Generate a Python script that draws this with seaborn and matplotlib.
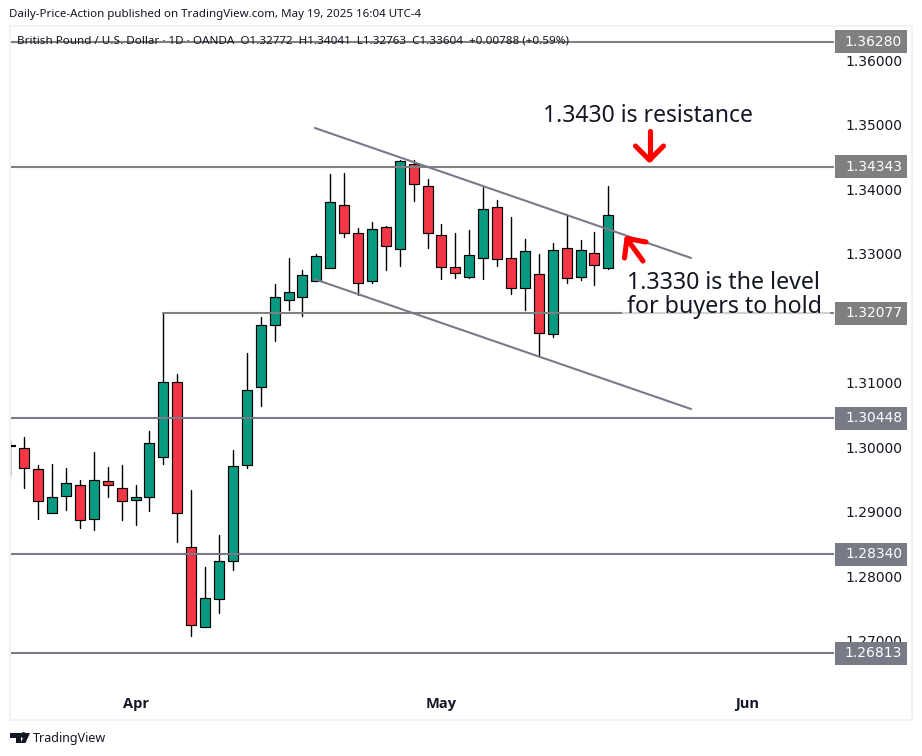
import matplotlib
matplotlib.use("Agg")
import matplotlib.pyplot as plt
from matplotlib.lines import Line2D
from matplotlib.patches import Ellipse, Polygon, Rectangle
import numpy as np
import pandas as pd
import seaborn as sns

# GBP/USD daily candles
opens = [1.30028, 1.29984, 1.29659, 1.28977, 1.29241, 1.29411, 1.28885, 1.29473, 1.29365, 1.29179, 1.29225,
         1.29845, 1.31007, 1.28451, 1.27211, 1.27645, 1.28234, 1.29721, 1.30929, 1.31890, 1.32277, 1.32324,
         1.32572, 1.32773, 1.33749, 1.33315, 1.32572, 1.33408, 1.33067, 1.34384, 1.34043, 1.33284, 1.32788,
         1.32634, 1.32928, 1.33718, 1.32928, 1.32463, 1.32680, 1.31750, 1.33083, 1.32634, 1.33005, 1.32772]
highs = [1.30113, 1.30160, 1.29726, 1.29741, 1.29679, 1.29493, 1.29927, 1.29695, 1.29726, 1.29416, 1.30252,
         1.32077, 1.31135, 1.29338, 1.28146, 1.28641, 1.29958, 1.31461, 1.32014, 1.32530, 1.32933, 1.32747,
         1.32995, 1.34234, 1.34249, 1.33393, 1.33486, 1.33424, 1.34451, 1.34446, 1.34152, 1.33455, 1.33320,
         1.33362, 1.34028, 1.33826, 1.33563, 1.33222, 1.32990, 1.33160, 1.33610, 1.33207, 1.33331, 1.34041]
lows = [1.29555, 1.29374, 1.28894, 1.28977, 1.29033, 1.28754, 1.28723, 1.29235, 1.28878, 1.28801, 1.29018,
        1.29746, 1.28537, 1.27081, 1.27211, 1.27438, 1.28104, 1.29684, 1.30644, 1.31647, 1.32132, 1.32039,
        1.32572, 1.32773, 1.33263, 1.32355, 1.32550, 1.32751, 1.32813, 1.33820, 1.33092, 1.32612, 1.32627,
        1.32618, 1.32612, 1.32813, 1.32379, 1.32132, 1.31419, 1.31704, 1.32550, 1.32596, 1.32519, 1.32763]
closes = [1.30022, 1.29675, 1.29163, 1.29225, 1.29442, 1.28869, 1.29489, 1.29411, 1.29163, 1.29225, 1.30062,
          1.31007, 1.28977, 1.27242, 1.27661, 1.28234, 1.29706, 1.30883, 1.31890, 1.32324, 1.32401, 1.32665,
          1.32959, 1.33795, 1.33315, 1.32541, 1.33377, 1.33114, 1.34431, 1.34074, 1.33315, 1.32788, 1.32696,
          1.32974, 1.33687, 1.32912, 1.32463, 1.33036, 1.31766, 1.33052, 1.32618, 1.33052, 1.32819, 1.33604]

# 1.32000 sits under the 1.32077 tag in the original, so it's left out
price_ticks = [1.27, 1.28, 1.29, 1.30, 1.31, 1.33, 1.34, 1.35, 1.36]
month_labels = ["Apr", "May", "Jun"]
month_bars = [9, 31, 53]

levels = [1.36280, 1.34343, 1.30448, 1.28340, 1.26813]
level_colors = ["#808080", "#808080", "#787b86", "#787b86", "#787b86"]
level_mid = 1.32077
level_mid_start = 11

upper_x = [21.9, 48.95]
upper_y = [1.34947, 1.32933]
lower_x = [21.9, 48.95]
lower_y = [1.32603, 1.30593]

W, H = 922, 756
GREEN = "#089981"
RED = "#f23645"
GREY = "#787b86"
MID_GREY = "#808080"
INK = "#131722"
UI_FONT = ["Noto Sans", "DejaVu Sans"]

sns.set_theme(style="white")
plt.rcParams["font.family"] = UI_FONT


def fx(px):
    return px / W


def fy(py):
    return 1 - py / H


df = pd.DataFrame({"bar": range(len(opens)), "open": opens, "high": highs, "low": lows, "close": closes})
wicks = df.melt(id_vars="bar", value_vars=["high", "low"], value_name="price")

fig = plt.figure(figsize=(W / 100, H / 100), dpi=100, facecolor="white")
ax = fig.add_axes([fx(10), fy(686), fx(834) - fx(10), fy(26) - fy(686)])
ax.set_facecolor("white")

# wicks go through seaborn, one unit per candle
sns.lineplot(data=wicks, x="bar", y="price", units="bar", estimator=None, color="black",
             lw=1.0, ax=ax, legend=False, zorder=2)

# bodies
up = df[df.close >= df.open]
down = df[df.close < df.open]
ax.bar(up.bar, up.close - up.open, bottom=up.open, width=0.72, color=GREEN, edgecolor="black", lw=0.85, zorder=3)
ax.bar(down.bar, down.open - down.close, bottom=down.close, width=0.72, color=RED, edgecolor="black", lw=0.85, zorder=3)

# horizontal levels and channel sit above the candles
for lv, col in zip(levels, level_colors):
    ax.axhline(lv, color=col, lw=1.5, zorder=4)
ax.plot([level_mid_start, len(opens) + 16], [level_mid, level_mid], color=MID_GREY, lw=1.5, zorder=4)
ax.plot(upper_x, upper_y, color=GREY, lw=1.5, zorder=4)
ax.plot(lower_x, lower_y, color=GREY, lw=1.5, zorder=4)

ax.set_xlim(-0.03, 59.23)
ax.set_ylim(1.26302, 1.36527)
ax.yaxis.tick_right()
ax.set_yticks(price_ticks)
ax.set_yticklabels([f"{p:.5f}" for p in price_ticks], fontsize=10, color=INK, family="DejaVu Sans")
ax.set_xticks(month_bars)
ax.set_xticklabels(month_labels, fontsize=10.5, color=INK, fontweight="bold", family="Open Sans")
ax.tick_params(axis="y", length=0, pad=8)
ax.tick_params(axis="x", length=0, pad=8)
ax.set_xlabel("")
ax.set_ylabel("")
sns.despine(ax=ax, left=True, bottom=True, right=True, top=True)

# price tags on the scale
for lv, col in zip(levels + [level_mid], level_colors + [MID_GREY]):
    py = 60 + (1.36 - lv) * 6455
    fig.add_artist(Rectangle((fx(835), fy(py + 11.5)), 72 / W, 23 / H, transform=fig.transFigure,
                             facecolor=col, edgecolor="none", zorder=10))
    fig.text(fx(873.5), fy(py), f"{lv:.5f}", color="white", fontsize=10, family="DejaVu Sans",
             ha="center", va="center", zorder=11)

# panel frame
fig.add_artist(Rectangle((fx(10), fy(720)), 902 / W, 694 / H, transform=fig.transFigure, fill=False,
                         edgecolor="#f2f2f2", lw=1.4, zorder=1))

# header and legend
fig.text(fx(9), fy(14), "Daily-Price-Action published on TradingView.com, May 19, 2025 16:04 UTC-4",
         fontsize=8.3, color=INK, va="center", ha="left")
fig.text(fx(17), fy(41), "British Pound / U.S. Dollar · 1D · OANDA  O1.32772  H1.34041  L1.32763  C1.33604  +0.00788 (+0.59%)",
         fontsize=8.4, color=INK, va="center", ha="left", zorder=3)

# the note's pale background washes out the 1.32077 line under it
fig.add_artist(Rectangle((fx(622), fy(318)), 208 / W, 20 / H, transform=fig.transFigure,
                         facecolor="white", edgecolor="none", alpha=0.65, zorder=5))

# notes
fig.text(fx(543), fy(116), "1.3430 is resistance", fontsize=16.5, color=INK, va="center", ha="left", zorder=6)
fig.text(fx(627), fy(283), "1.3330 is the level", fontsize=16.7, color=INK, va="center", ha="left", zorder=6)
fig.text(fx(627), fy(307), "for buyers to hold", fontsize=16.7, color=INK, va="center", ha="left", zorder=6)


def stroke(xs, ys):
    fig.add_artist(Line2D([fx(x) for x in xs], [fy(y) for y in ys], color="#ff0000", lw=3.7,
                          solid_capstyle="round", solid_joinstyle="round", transform=fig.transFigure, zorder=7))


stroke([649.5, 649.5], [131, 159])
stroke([635.5, 649.5, 663.5], [146, 160, 146])
stroke([627, 643], [239, 261])
stroke([646, 627, 624.5], [242, 238.5, 258])

# logo and footer
logo = [[(10, 733), (21, 733), (21, 743), (16, 743), (16, 737.5), (10, 737.5)],
        [(25.5, 733), (30, 733), (25.5, 743), (20.5, 743)]]
for pts in logo:
    fig.add_artist(Polygon([(fx(x), fy(y)) for x, y in pts], closed=True, transform=fig.transFigure,
                           facecolor=INK, edgecolor="none"))
fig.add_artist(Ellipse((fx(23.5), fy(735.2)), 4.6 / W, 4.6 / H, transform=fig.transFigure, color=INK))
fig.text(fx(33), fy(738.5), "TradingView", fontsize=9, color=INK, va="center", ha="left")

fig.savefig("out.png", dpi=100)
